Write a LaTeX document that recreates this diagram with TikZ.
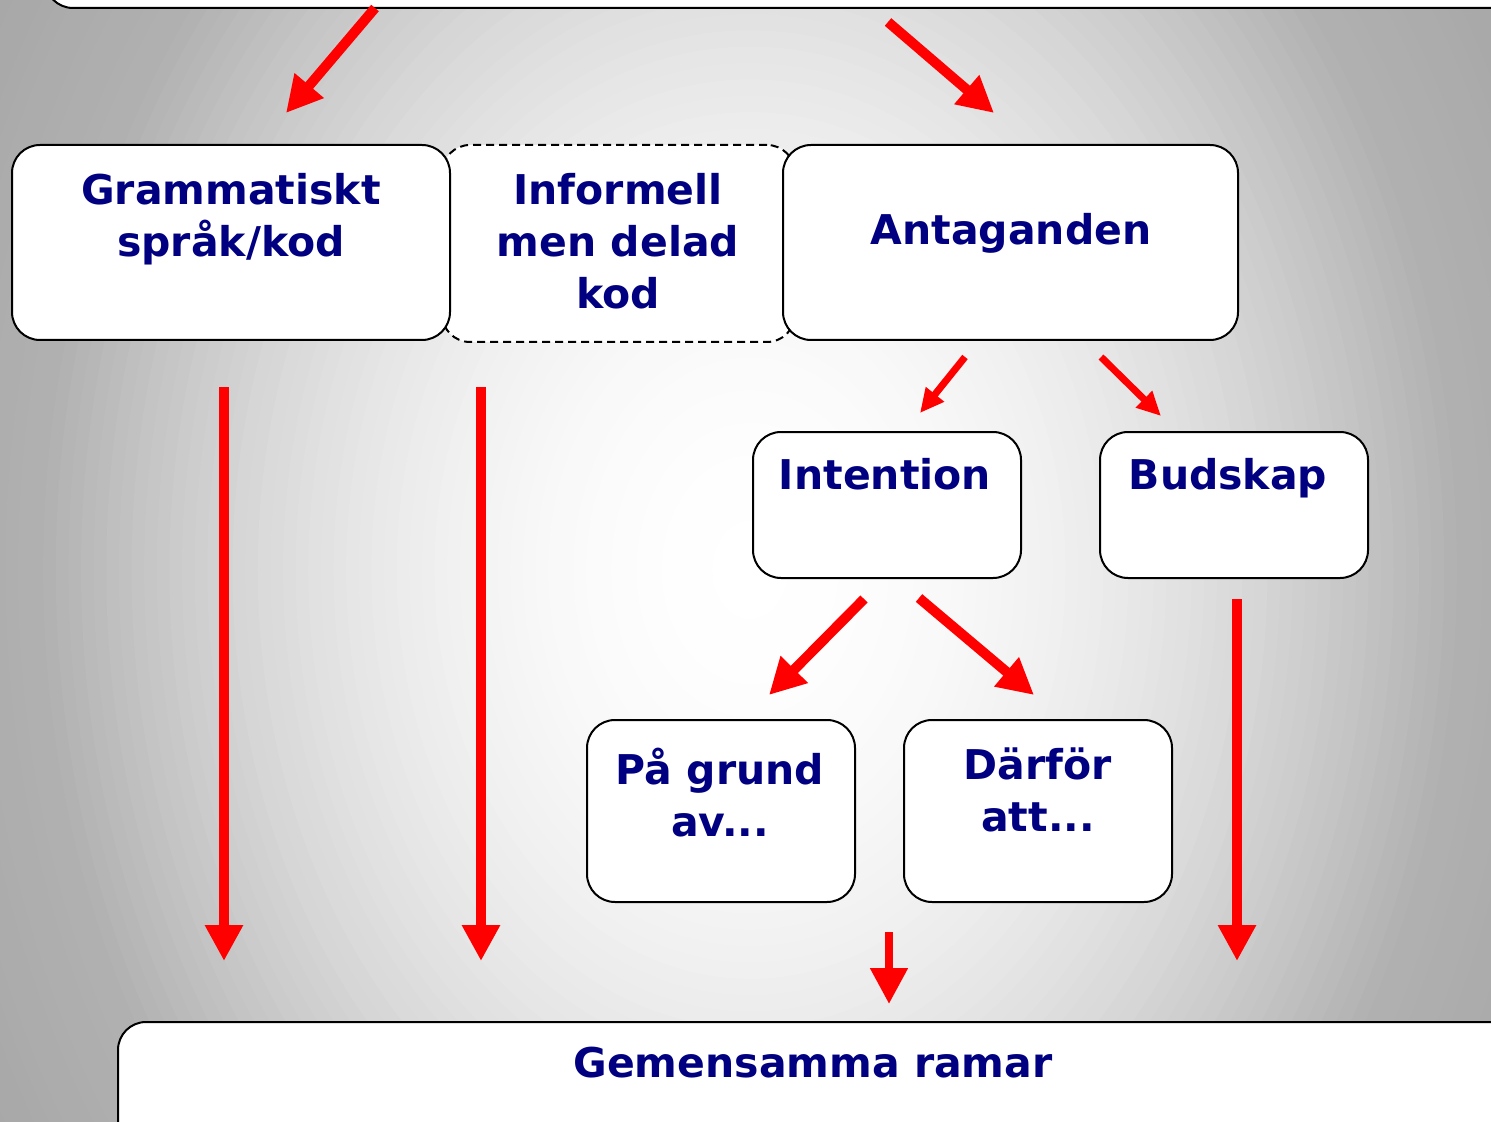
\documentclass[tikz,border=0pt]{standalone}
\usepackage{fontspec}
\setmainfont{DejaVu Sans}
\usetikzlibrary{arrows.meta,calc}
\definecolor{navy}{RGB}{0,0,128}
\definecolor{arrred}{RGB}{255,0,0}
\begin{document}
\begin{tikzpicture}[x=0.5pt,y=-0.5pt,
  box/.style={draw=black, line width=1pt, fill=white, rounded corners=14pt, inner sep=0pt, outer sep=0pt},
  dbox/.style={box, dash pattern=on 4pt off 2.5pt},
  lbl/.style={text=navy, font={\fontsize{20.5}{26}\selectfont\bfseries}, align=center, inner sep=0pt, outer sep=0pt, anchor=north, execute at begin node={\rule{0pt}{14pt}}},
  bigarr/.style={draw=arrred, line width=5pt, -{Triangle[length=18pt,width=18pt]}},
  smallarr/.style={draw=arrred, line width=3.5pt, -{Triangle[length=12pt,width=11pt]}}]
\useasboundingbox (0,0) rectangle (1491,1122);
\clip (0,0) rectangle (1491,1122);
% background radial gradient
\fill[black!40] (0,0) rectangle (1491,1122);
\foreach \i in {0,...,90} {
  \pgfmathsetmacro\d{1.6*(90-\i)/90}
  \pgfmathsetmacro\g{(\d<=1 ? (255-78*\d*\d) : (177-40*(\d-1)))/255}
  \pgfmathsetmacro\rx{355*\d}
  \pgfmathsetmacro\ry{460*\d}
  \definecolor{bgc}{gray}{\g}
  \fill[bgc] (750,570) ellipse [x radius=\rx pt, y radius=\ry pt];
}
% boxes
\node[box, minimum width=747.5pt, minimum height=54pt] (top) at (792.5,-46) {};
\node[dbox, minimum width=176.5pt, minimum height=98.5pt] (inf) at (618.5,243.5) {};
\node[box, minimum width=219pt, minimum height=97.5pt] (gram) at (231,242.5) {};
\node[box, minimum width=227.5pt, minimum height=97.5pt] (ant) at (1010.5,242.5) {};
\node[box, minimum width=134pt, minimum height=73pt] (int) at (887,505) {};
\node[box, minimum width=134pt, minimum height=73pt] (bud) at (1234,505) {};
\node[box, minimum width=134pt, minimum height=91pt] (pag) at (721,811) {};
\node[box, minimum width=134pt, minimum height=91pt] (dar) at (1038,811) {};
\node[box, minimum width=721pt, minimum height=89pt] (gem) at (839,1111) {};
% texts
\node[lbl] (tgram) at (231,173) {Grammatiskt\\språk/kod};
\node[lbl] (tinf) at (618,173) {Informell\\men delad\\kod};
\node[lbl] (tant) at (1011,213) {Antaganden};
\node[lbl] (tint) at (885,458) {Intention};
\node[lbl] (tbud) at (1228,458) {Budskap};
\node[lbl] (tpag) at (720,748) {På grund\\av...};
\node[lbl] (tdar) at (1038,748) {Därför\\att...};
\node[lbl] (tgem) at (813,1047) {Gemensamma ramar};
% arrow end points
\coordinate (a1s) at (375,8);    \coordinate (a1e) at (286,113);
\coordinate (a2s) at (888,22);   \coordinate (a2e) at (994,113);
\coordinate (a3s) at (965,357);  \coordinate (a3e) at (920,413);
\coordinate (a4s) at (1101,357); \coordinate (a4e) at (1161,416);
\coordinate (a5s) at (864,599);  \coordinate (a5e) at (769,695);
\coordinate (a6s) at (919,598);  \coordinate (a6e) at (1034,695);
\coordinate (v1s) at (224,387);  \coordinate (v1e) at (224,961);
\coordinate (v2s) at (481,387);  \coordinate (v2e) at (481,961);
\coordinate (v3s) at (1237,599); \coordinate (v3e) at (1237,961);
\coordinate (v4s) at (889,932);  \coordinate (v4e) at (889,1004);
\draw[bigarr] (a1s) -- (a1e);
\draw[bigarr] (a2s) -- (a2e);
\draw[smallarr] (a3s) -- (a3e);
\draw[smallarr] (a4s) -- (a4e);
\draw[bigarr] (a5s) -- (a5e);
\draw[bigarr] (a6s) -- (a6e);
\draw[bigarr] (v1s) -- (v1e);
\draw[bigarr] (v2s) -- (v2e);
\draw[bigarr] (v3s) -- (v3e);
\draw[bigarr, line width=4pt] (v4s) -- (v4e);
\end{tikzpicture}
\end{document}
